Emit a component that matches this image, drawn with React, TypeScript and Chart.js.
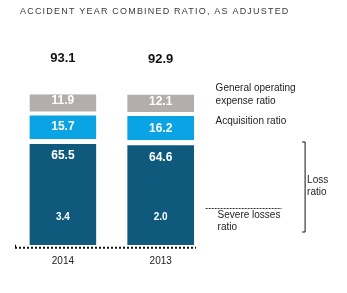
import React, { useEffect, useRef } from "react";
import { Chart, registerables } from "chart.js";

Chart.register(...registerables);

const TITLE = "ACCIDENT YEAR COMBINED RATIO, AS ADJUSTED";
const years = ["2014", "2013"];
const lossRatio = [65.5, 64.6];
const acquisitionRatio = [15.7, 16.2];
const generalExpenseRatio = [11.9, 12.1];
const severeLossesRatio = [3.4, 2.0];
const combinedRatio = [93.1, 92.9];

const FONT = '"Liberation Sans", Arial, sans-serif';
const DARK = "#0f5a7c";
const LIGHT = "#0aa3e4";
const GREY = "#b4adad";

const annotate = {
  id: "annotate",
  afterDraw(chart: any) {
    const { ctx, chartArea } = chart;
    const yScale = chart.scales.y;
    const dark = chart.getDatasetMeta(0).data;
    const light = chart.getDatasetMeta(1).data;
    const grey = chart.getDatasetMeta(2).data;
    ctx.save();

    // heading
    ctx.font = `9px ${FONT}`;
    ctx.letterSpacing = "1.2px";
    ctx.fillStyle = "#3a3a3a";
    ctx.textAlign = "left";
    ctx.textBaseline = "middle";
    ctx.fillText(TITLE, 20, 12);
    ctx.letterSpacing = "0px";

    // values inside the stacked segments
    ctx.fillStyle = "#ffffff";
    ctx.textAlign = "center";
    years.forEach((_, i) => {
      const g = grey[i], l = light[i], d = dark[i];
      ctx.font = `bold 12px ${FONT}`;
      ctx.fillText(generalExpenseRatio[i].toFixed(1), g.x, (g.y + g.base - 2) / 2 - 2);
      ctx.fillText(acquisitionRatio[i].toFixed(1), l.x, (l.y + 2 + l.base) / 2);
      ctx.fillText(lossRatio[i].toFixed(1), d.x, d.y + 5 + 12);
      ctx.font = `bold 10px ${FONT}`;
      ctx.fillText(severeLossesRatio[i].toFixed(1), d.x, yScale.getPixelForValue(0) - 28);
    });

    // combined totals above each bar
    ctx.fillStyle = "#111111";
    ctx.font = `bold 13px ${FONT}`;
    years.forEach((_, i) => {
      ctx.fillText(combinedRatio[i].toFixed(1), grey[i].x, grey[i].y - 35.5);
    });

    // year labels
    ctx.font = `10px ${FONT}`;
    ctx.fillStyle = "#222222";
    years.forEach((yr, i) => {
      ctx.fillText(yr, dark[i].x, chartArea.bottom + 16.5);
    });

    // dotted baseline
    const base = chartArea.bottom + 2.7;
    ctx.strokeStyle = "#111111";
    ctx.lineWidth = 2;
    ctx.setLineDash([2, 2]);
    ctx.beginPath();
    ctx.moveTo(chartArea.left + 1, base);
    ctx.lineTo(chartArea.left + 182, base);
    ctx.stroke();
    ctx.setLineDash([]);
    ctx.lineWidth = 1;
    ctx.beginPath();
    ctx.moveTo(chartArea.left + 1.5, base);
    ctx.lineTo(chartArea.left + 1.5, base - 3);
    ctx.stroke();

    // side notes
    const tx = chartArea.right + 6;
    ctx.font = `10px ${FONT}`;
    ctx.fillStyle = "#222222";
    ctx.textAlign = "left";
    ctx.fillText("General operating", tx, chartArea.top + 5);
    ctx.fillText("expense ratio", tx, chartArea.top + 18);
    ctx.fillText("Acquisition ratio", tx, chartArea.top + 38);

    // loss ratio bracket
    const bx = chartArea.right + 95.5;
    const bTop = chartArea.top + 59;
    const bBot = chartArea.top + 149;
    ctx.strokeStyle = "#111111";
    ctx.lineWidth = 1;
    ctx.beginPath();
    ctx.moveTo(bx, bTop);
    ctx.lineTo(bx, bBot);
    ctx.moveTo(bx - 3, bTop);
    ctx.lineTo(bx, bTop);
    ctx.moveTo(bx - 3, bBot);
    ctx.lineTo(bx, bBot);
    ctx.stroke();
    ctx.fillText("Loss", bx + 2, chartArea.top + 97);
    ctx.fillText("ratio", bx + 2, chartArea.top + 109);

    // severe losses marker
    const sy = chartArea.top + 125.5;
    ctx.strokeStyle = "#333333";
    ctx.setLineDash([2, 1]);
    ctx.beginPath();
    ctx.moveTo(chartArea.right - 4, sy);
    ctx.lineTo(chartArea.right + 72, sy);
    ctx.stroke();
    ctx.setLineDash([]);
    ctx.fillText("Severe losses", chartArea.right + 8, chartArea.top + 132);
    ctx.fillText("ratio", chartArea.right + 8, chartArea.top + 144);

    ctx.restore();
  },
};

export default function App() {
  const ref = useRef<HTMLCanvasElement | null>(null);

  useEffect(() => {
    if (!ref.current) return;
    const chart = new Chart(ref.current, {
      type: "bar",
      data: {
        labels: years,
        datasets: [
          {
            label: "Loss ratio",
            data: lossRatio,
            backgroundColor: DARK,
            borderColor: "#ffffff",
            borderWidth: { top: 5, bottom: 0, left: 0, right: 0 },
          },
          {
            label: "Acquisition ratio",
            data: acquisitionRatio,
            backgroundColor: LIGHT,
            borderColor: "#ffffff",
            borderWidth: { top: 2, bottom: 0, left: 0, right: 0 },
          },
          {
            label: "General operating expense ratio",
            data: generalExpenseRatio,
            backgroundColor: GREY,
            borderColor: "#ffffff",
            borderSkipped: false,
            borderWidth: { top: 0, bottom: 2, left: 0, right: 0 },
          },
        ],
      },
      options: {
        responsive: false,
        animation: false,
        layout: { padding: { left: 14, right: 137.4, top: 83, bottom: 48 } },
        datasets: { bar: { categoryPercentage: 0.685, barPercentage: 1 } },
        scales: {
          x: { stacked: true, display: false },
          y: { stacked: true, display: false, min: 0, max: 100 },
        },
        plugins: {
          legend: { display: false },
          tooltip: { enabled: false },
          title: { display: false },
        },
      },
      plugins: [annotate],
    });
    return () => chart.destroy();
  }, []);

  return (
    <div style={{ position: "absolute", left: 0, top: 0, width: 347, height: 293, background: "#ffffff" }}>
      <canvas ref={ref} width={347} height={293} />
    </div>
  );
}
